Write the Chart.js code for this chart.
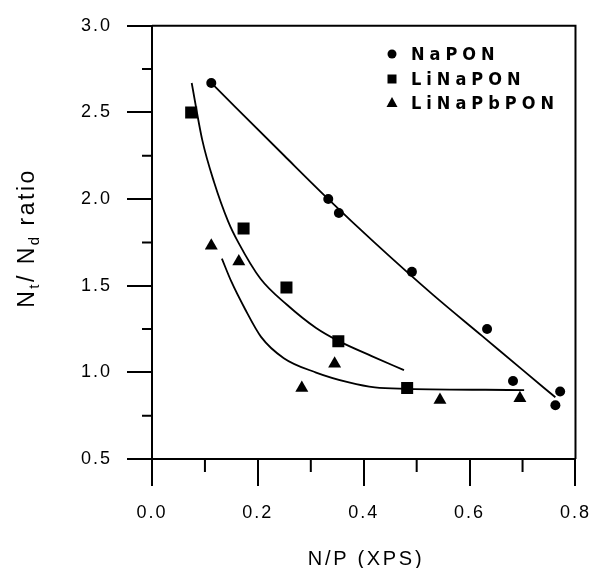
<!DOCTYPE html>
<html>
<head>
<meta charset="utf-8">
<script src="https://cdn.jsdelivr.net/npm/chart.js@4"></script>
<style>
  html, body { margin: 0; padding: 0; background: #fff; }
  #wrap { width: 604px; height: 568px; }
</style>
</head>
<body>
<div id="wrap"><canvas id="chart" width="604" height="568"></canvas></div>
<script>
// measured points
const naponX = [0.112, 0.333, 0.353, 0.491, 0.633, 0.682, 0.771, 0.762];
const naponY = [2.67, 2.0, 1.92, 1.58, 1.25, 0.95, 0.89, 0.81];
const linaponX = [0.074, 0.173, 0.254, 0.352, 0.482];
const linaponY = [2.5, 1.83, 1.49, 1.18, 0.91];
const linapbponX = [0.112, 0.164, 0.283, 0.345, 0.544, 0.695];
const linapbponY = [1.73, 1.64, 0.91, 1.05, 0.84, 0.85];

// fitted curves as drawn in the figure
const naponFitX = [0.112, 0.25, 0.333, 0.42, 0.531, 0.624, 0.70, 0.762];
const naponFitY = [2.67, 2.25, 2.0, 1.75, 1.447, 1.209, 1.014, 0.856];
const linaponFitX = [0.075, 0.095, 0.117, 0.144, 0.163, 0.205, 0.255, 0.31, 0.353, 0.415, 0.476];
const linaponFitY = [2.67, 2.34, 2.10, 1.87, 1.75, 1.54, 1.39, 1.256, 1.18, 1.094, 1.013];
const linapbponFitX = [0.132, 0.150, 0.175, 0.206, 0.249, 0.310, 0.372, 0.421, 0.482, 0.703];
const linapbponFitY = [1.656, 1.523, 1.37, 1.205, 1.082, 0.999, 0.942, 0.913, 0.905, 0.898];

const seriesNames = ["NaPON", "LiNaPON", "LiNaPbPON"];
const xMinorTicks = [0.1, 0.3, 0.5, 0.7];
const yMinorTicks = [0.75, 1.25, 1.75, 2.25, 2.75];

const FONT = '"Liberation Sans", Arial, sans-serif';

function pts(xs, ys) {
  return xs.map((x, i) => ({ x: x, y: ys[i] }));
}

function fitLine(xs, ys) {
  return {
    data: pts(xs, ys),
    showLine: true,
    pointRadius: 0,
    borderColor: "#000",
    borderWidth: 1.8,
    cubicInterpolationMode: "monotone",
    fill: false,
  };
}

function markerSet(label, xs, ys, style, r) {
  return {
    label: label,
    data: pts(xs, ys),
    showLine: false,
    pointStyle: style,
    pointRadius: r,
    pointBackgroundColor: "#000",
    pointBorderColor: "#000",
    pointBorderWidth: 0,
  };
}

function drawMarker(ctx, style, x, y) {
  ctx.beginPath();
  if (style === "circle") {
    ctx.arc(x, y, 4.5, 0, Math.PI * 2);
  } else if (style === "rect") {
    ctx.rect(x - 4.5, y - 4.5, 9, 9);
  } else {
    ctx.moveTo(x, y - 6);
    ctx.lineTo(x + 5.5, y + 4);
    ctx.lineTo(x - 5.5, y + 4);
    ctx.closePath();
  }
  ctx.fill();
}

const extras = {
  id: "extras",
  beforeDraw(chart) {
    chart.ctx.letterSpacing = "2px";
  },
  afterDraw(chart) {
    const ctx = chart.ctx;
    const a = chart.chartArea;
    const xs = chart.scales.x;
    const ys = chart.scales.y;
    ctx.save();
    ctx.strokeStyle = "#000";
    ctx.lineWidth = 2;
    ctx.beginPath();
    ctx.moveTo(a.left, a.top);
    ctx.lineTo(a.right, a.top);
    ctx.lineTo(a.right, a.bottom);
    yMinorTicks.forEach((v) => {
      const p = ys.getPixelForValue(v);
      ctx.moveTo(a.left - 10, p);
      ctx.lineTo(a.left, p);
    });
    xMinorTicks.forEach((v) => {
      const p = xs.getPixelForValue(v);
      ctx.moveTo(p, a.bottom);
      ctx.lineTo(p, a.bottom + 13);
    });
    ctx.stroke();

    // legend inside the plot
    ctx.fillStyle = "#000";
    const styles = ["circle", "rect", "triangle"];
    const rows = [54, 79, 103];
    ctx.font = "bold 18px " + '"DejaVu Sans Condensed", "DejaVu Sans", sans-serif';
    ctx.letterSpacing = "5px";
    ctx.textAlign = "left";
    ctx.textBaseline = "middle";
    seriesNames.forEach((name, i) => {
      drawMarker(ctx, styles[i], 392, rows[i]);
      ctx.fillText(name, 411, rows[i] + 1);
    });

    // x title
    ctx.font = "20px " + FONT;
    ctx.letterSpacing = "2.7px";
    ctx.textAlign = "center";
    ctx.textBaseline = "middle";
    ctx.fillText("N/P (XPS)", 366, 559);

    // y title with subscripts
    const parts = [
      ["N", 23, 0], ["t", 15, 5], ["/ N", 23, 0], ["d", 15, 5], [" ratio", 23, 0],
    ];
    ctx.letterSpacing = "2.5px";
    ctx.textAlign = "left";
    ctx.textBaseline = "alphabetic";
    let total = 0;
    parts.forEach((p) => {
      ctx.font = p[1] + "px " + FONT;
      total += ctx.measureText(p[0]).width;
    });
    ctx.translate(34, 238);
    ctx.rotate(-Math.PI / 2);
    let cx = -total / 2;
    parts.forEach((p) => {
      ctx.font = p[1] + "px " + FONT;
      ctx.fillText(p[0], cx, p[2]);
      cx += ctx.measureText(p[0]).width;
    });
    ctx.restore();
  },
};

new Chart(document.getElementById("chart"), {
  type: "scatter",
  data: {
    datasets: [
      markerSet(seriesNames[0], naponX, naponY, "circle", 5),
      markerSet(seriesNames[1], linaponX, linaponY, "rect", 8.5),
      markerSet(seriesNames[2], linapbponX, linapbponY, "triangle", 7.5),
      fitLine(naponFitX, naponFitY),
      fitLine(linaponFitX, linaponFitY),
      fitLine(linapbponFitX, linapbponFitY),
    ],
  },
  options: {
    responsive: false,
    animation: false,
    layout: {
      padding: { top: 22, right: 18, left: 0, bottom: 0 },
    },
    plugins: {
      legend: { display: false },
      tooltip: { enabled: false },
    },
    scales: {
      x: {
        type: "linear",
        min: 0,
        max: 0.8,
        afterFit: (s) => {
          s.height = 109;
        },
        ticks: {
          stepSize: 0.2,
          color: "#000",
          padding: 16,
          font: { family: FONT, size: 18 },
          callback: (v) => v.toFixed(1),
        },
        grid: {
          drawOnChartArea: false,
          drawTicks: true,
          tickLength: 27,
          lineWidth: 2,
          color: "#000",
        },
        border: { color: "#000", width: 2 },
      },
      y: {
        min: 0.5,
        max: 3.0,
        afterFit: (s) => {
          s.width = 152;
        },
        ticks: {
          stepSize: 0.5,
          color: "#000",
          padding: 15,
          font: { family: FONT, size: 18 },
          callback: (v) => v.toFixed(1),
        },
        grid: {
          drawOnChartArea: false,
          drawTicks: true,
          tickLength: 25,
          lineWidth: 2,
          color: "#000",
        },
        border: { color: "#000", width: 2 },
      },
    },
  },
  plugins: [extras],
});
</script>
</body>
</html>
